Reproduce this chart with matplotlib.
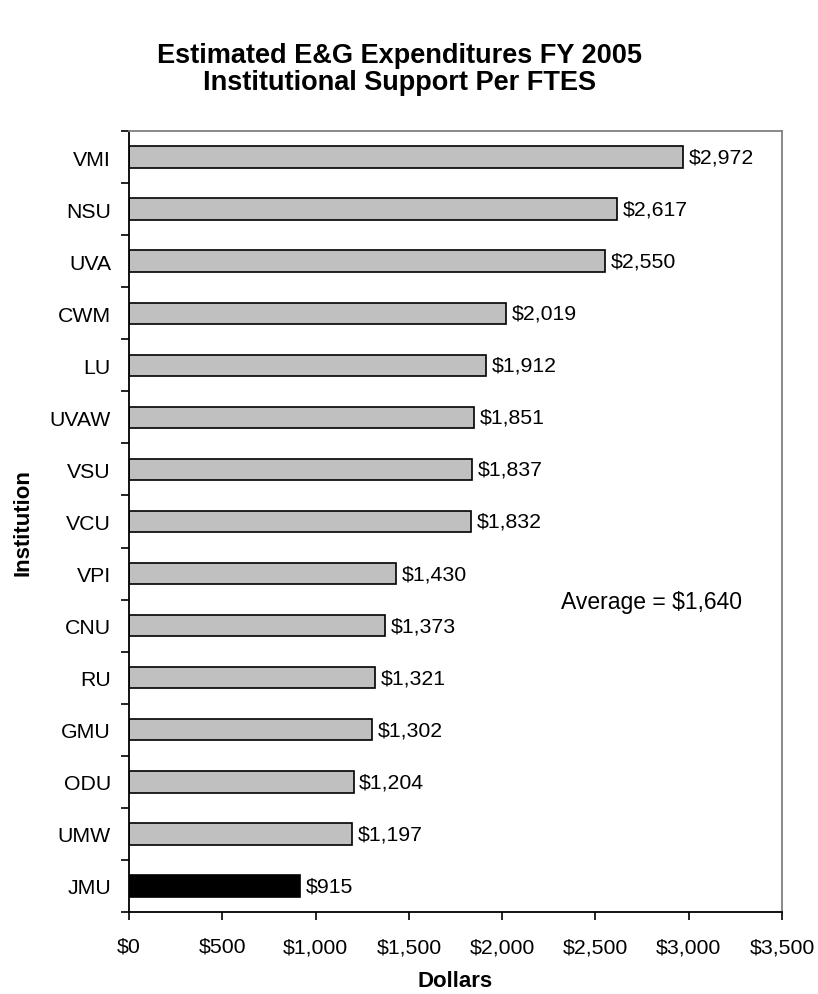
import numpy as np
import matplotlib
matplotlib.use("Agg")
import matplotlib.pyplot as plt
from matplotlib.ticker import FuncFormatter, MultipleLocator

#===== DATA =====
institutions = ["VMI", "NSU", "UVA", "CWM", "LU", "UVAW", "VSU", "VCU",
                "VPI", "CNU", "RU", "GMU", "ODU", "UMW", "JMU"]
support_per_ftes = [2972, 2617, 2550, 2019, 1912, 1851, 1837, 1832,
                    1430, 1373, 1321, 1302, 1204, 1197, 915]
highlight = "JMU"
average = 1640

TITLE = "Estimated E&G Expenditures FY 2005\nInstitutional Support Per FTES"

#===== STYLE =====
plt.rcParams["font.family"] = ["Liberation Sans", "DejaVu Sans"]
FS = 15.3

fig = plt.figure(figsize=(8.18, 9.95), dpi=100)
ax = fig.add_axes([129 / 818, 1 - 913 / 995, (782 - 129) / 818, (913 - 132) / 995])

y = np.arange(len(institutions))
colors = ["black" if name == highlight else "#C0C0C0" for name in institutions]
ax.barh(y, support_per_ftes, height=0.41, color=colors,
        edgecolor="black", linewidth=1.2)

# value labels
for yi, val in zip(y, support_per_ftes):
    ax.text(val + 30, yi, f"${val:,}", va="center", ha="left", fontsize=FS)

ax.text(0.80, 0.397, f"Average = ${average:,}", transform=ax.transAxes,
        ha="center", va="center", fontsize=16.5)

ax.set_xlim(0, 3500)
ax.set_ylim(len(institutions) - 0.5, -0.5)
ax.xaxis.set_major_locator(MultipleLocator(500))
ax.xaxis.set_major_formatter(FuncFormatter(lambda v, p: f"${v:,.0f}"))

ax.set_yticks(y)
ax.set_yticklabels(institutions)
ax.set_yticks(np.arange(-0.5, len(institutions)), minor=True)
ax.tick_params(axis="y", which="major", length=0, pad=13, labelsize=FS)
ax.tick_params(axis="y", which="minor", length=6, width=1.2, direction="out")
ax.tick_params(axis="x", which="major", length=6, width=1.2, direction="out",
               pad=12, labelsize=FS)

for side in ["left", "bottom"]:
    ax.spines[side].set_color("black")
    ax.spines[side].set_linewidth(1.3)
for side in ["top", "right"]:
    ax.spines[side].set_color("#808080")
    ax.spines[side].set_linewidth(1.3)

ax.set_xlabel("Dollars", fontsize=16, fontweight="bold", labelpad=10)
ax.set_ylabel("Institution", fontsize=16, fontweight="bold", labelpad=12)

fig.text(0.488, 0.930, TITLE, ha="center", va="center", fontsize=19.5,
         fontweight="bold", linespacing=1.05)

plt.savefig("out.png", dpi=100)
